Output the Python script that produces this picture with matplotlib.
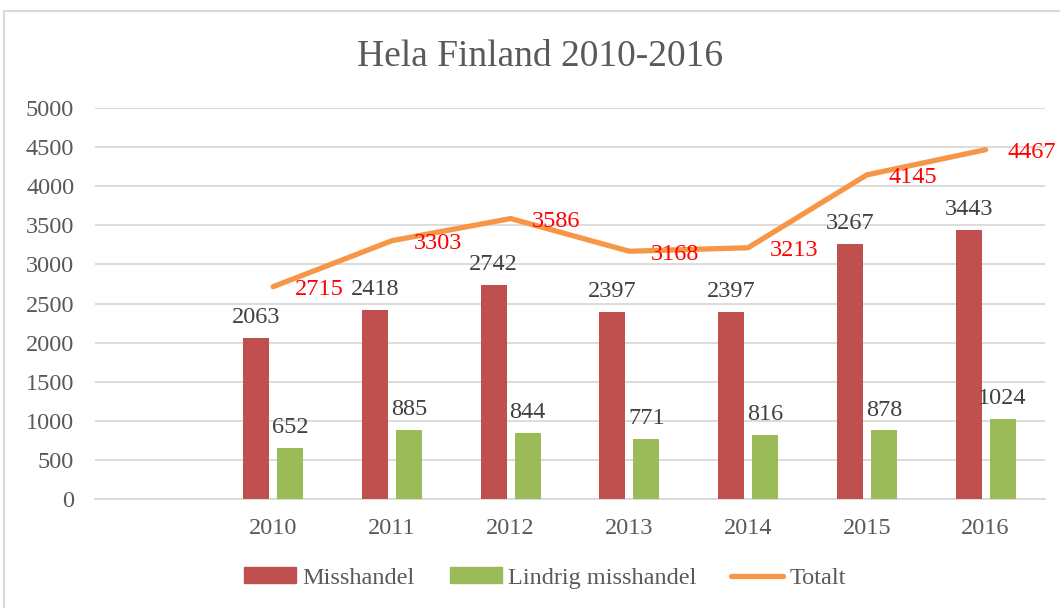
import matplotlib
matplotlib.use("Agg")
import matplotlib.pyplot as plt
from matplotlib.patches import Rectangle, Patch
from matplotlib.lines import Line2D
import numpy as np

categories = ["", "2010", "2011", "2012", "2013", "2014", "2015", "2016"]
misshandel = [None, 2063, 2418, 2742, 2397, 2397, 3267, 3443]
lindrig = [None, 652, 885, 844, 771, 816, 878, 1024]
totalt = [None, 2715, 3303, 3586, 3168, 3213, 4145, 4467]
title = "Hela Finland 2010-2016"
series_names = ["Misshandel", "Lindrig misshandel", "Totalt"]

plt.rcParams['font.family'] = ['Liberation Serif', 'DejaVu Serif']
TXT = "#595959"
RED = "#C0504D"
GREEN = "#9BBB59"
ORANGE = "#F79646"

fig = plt.figure(figsize=(10.6, 6.08), dpi=100)
fig.patches.append(Rectangle((4/1060, -0.05), 1.2, (608-11)/608 + 0.05,
                             transform=fig.transFigure, fill=False,
                             edgecolor="#D9D9D9", linewidth=1.5))
ax = fig.add_axes([95/1060, 1-499/608, 950/1060, 391/608])

x = np.arange(len(categories))
w = 0.22
off = 0.143
idx = [i for i, v in enumerate(misshandel) if v is not None]
mv = [misshandel[i] for i in idx]
lv = [lindrig[i] for i in idx]
tv = [totalt[i] for i in idx]
xi = x[idx]

ax.bar(xi - off, mv, w, color=RED, zorder=3)
ax.bar(xi + off, lv, w, color=GREEN, zorder=3)
ax.plot(xi, tv, color=ORANGE, linewidth=3.8, solid_capstyle='round',
        solid_joinstyle='round', zorder=4)

fs = 17.5
for xx, v in zip(xi - off, mv):
    ax.annotate(str(v), (xx, v), xytext=(0, 7), textcoords='offset points',
                ha='center', va='bottom', fontsize=fs, color="#404040", zorder=5)
for xx, v in zip(xi + off, lv):
    ax.annotate(str(v), (xx, v), xytext=(0, 7), textcoords='offset points',
                ha='center', va='bottom', fontsize=fs, color="#404040", zorder=5)
for xx, v in zip(xi, tv):
    ax.annotate(str(v), (xx, v), xytext=(33, -2), textcoords='offset points',
                ha='center', va='center', fontsize=fs, color="#FF0000", zorder=5)

ax.set_xlim(-0.5, len(categories) - 0.5)
ax.set_ylim(0, 5000)
ax.set_yticks(np.arange(0, 5001, 500))
ax.set_xticks(x)
ax.set_xticklabels(categories)
ax.yaxis.grid(True, color="#D9D9D9", linewidth=1.3, zorder=0)
ax.set_axisbelow(True)
for s in ["top", "right", "left"]:
    ax.spines[s].set_visible(False)
ax.spines["bottom"].set_color("#D9D9D9")
ax.spines["bottom"].set_linewidth(1.3)
ax.tick_params(axis='both', length=0, labelsize=fs, labelcolor=TXT)
ax.tick_params(axis='x', pad=14)
ax.tick_params(axis='y', pad=15)

fig.text(540/1060, 1-57/608, title, ha='center', va='center', fontsize=27, color=TXT)

handles = [Patch(color=RED), Patch(color=GREEN),
           Line2D([0], [0], color=ORANGE, linewidth=3.8, solid_capstyle='round')]
fig.legend(handles, series_names, loc='center', bbox_to_anchor=(545/1060, 1-578/608),
           ncol=3, frameon=False, fontsize=fs, labelcolor=TXT,
           handlelength=2.14, handleheight=0.6, columnspacing=1.45, handletextpad=0.25)

fig.savefig("out.png", dpi=100)
